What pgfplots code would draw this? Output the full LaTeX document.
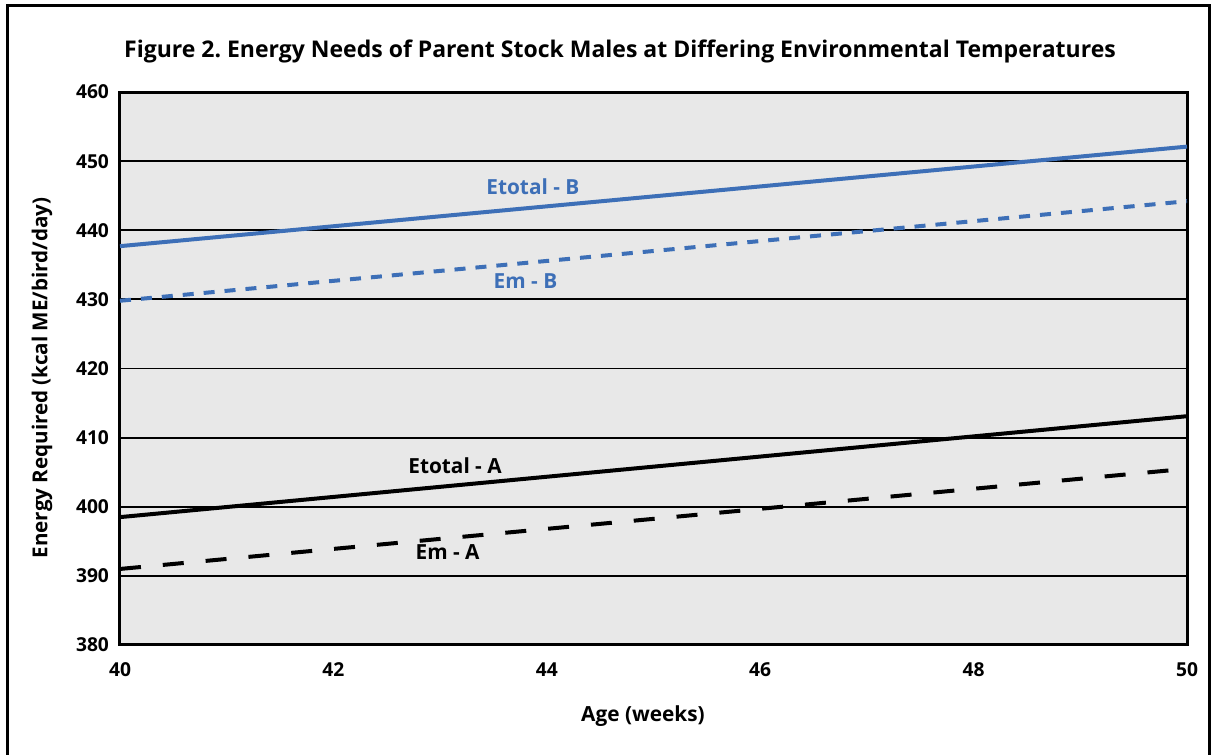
\documentclass[border=0pt]{standalone}
\usepackage{pgfplots}
\pgfplotsset{compat=1.18}
\usepackage{fontspec}
\setmainfont{Open Sans}
\frenchspacing
\definecolor{bgray}{RGB}{232,232,232}
\definecolor{lblue}{RGB}{61,111,183}
\begin{document}
\begin{tikzpicture}
\useasboundingbox (0,0) rectangle (606pt,377.5pt);
\draw[line width=1.5pt] (3.5pt,-10pt) rectangle (604.5pt,374.5pt);
\node[font=\bfseries\fontsize{11.5}{13}\selectfont] at (310pt,352pt) {Figure 2. Energy Needs of Parent Stock Males at Differing Environmental Temperatures};
\node[font=\bfseries\fontsize{10.3}{12}\selectfont, rotate=90] at (21pt,188.5pt) {Energy Required (kcal ME/bird/day)};
\node[font=\bfseries\fontsize{10.4}{12}\selectfont] at (321.5pt,19.5pt) {Age (weeks)};
\begin{axis}[
  at={(60pt,55pt)}, anchor=south west,
  scale only axis, width=533.5pt, height=276.5pt,
  xmin=40, xmax=50, ymin=380, ymax=460,
  xtick={40,42,...,50}, ytick={380,390,...,460},
  axis background/.style={fill=bgray},
  axis line style={line width=1.5pt},
  major tick length=0pt,
  ymajorgrids, grid style={black, line width=0.9pt},
  tick label style={font=\bfseries\fontsize{9.6}{11}\selectfont},
  /pgf/number format/assume math mode=true,
  xticklabel style={yshift=-5.5pt},
  yticklabel style={xshift=-2pt},
  clip=false,
]
\addplot[lblue, line width=2pt] coordinates {(40,437.7) (50,452.1)};
\addplot[lblue, line width=2pt, dash pattern=on 5.5pt off 5pt] coordinates {(40,429.8) (50,444.2)};
\addplot[black, line width=2pt] coordinates {(40,398.5) (50,413.1)};
\addplot[black, line width=2pt, dash pattern=on 10.5pt off 11pt] coordinates {(40,391.0) (50,405.5)};
\node[lblue, font=\bfseries\fontsize{10.4}{12}\selectfont] at (axis cs:43.87,446.3) {Etotal - B};
\node[lblue, font=\bfseries\fontsize{10.4}{12}\selectfont] at (axis cs:43.80,432.7) {Em - B};
\node[font=\bfseries\fontsize{10.4}{12}\selectfont] at (axis cs:43.14,405.9) {Etotal - A};
\node[font=\bfseries\fontsize{10.4}{12}\selectfont] at (axis cs:43.07,393.5) {Em - A};
\end{axis}
\end{tikzpicture}
\end{document}
